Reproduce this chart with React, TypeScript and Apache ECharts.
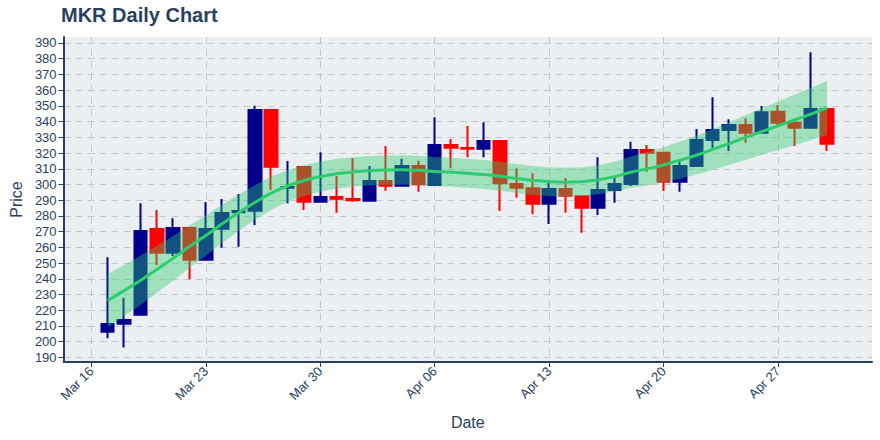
import React, { useEffect, useRef } from "react";
import * as echarts from "echarts";

// ---------- data ----------
const dates = [
  "2020-03-17", "2020-03-18", "2020-03-19", "2020-03-20", "2020-03-21", "2020-03-22", "2020-03-23",
  "2020-03-24", "2020-03-25", "2020-03-26", "2020-03-27", "2020-03-28", "2020-03-29", "2020-03-30",
  "2020-03-31", "2020-04-01", "2020-04-02", "2020-04-03", "2020-04-04", "2020-04-05", "2020-04-06",
  "2020-04-07", "2020-04-08", "2020-04-09", "2020-04-10", "2020-04-11", "2020-04-12", "2020-04-13",
  "2020-04-14", "2020-04-15", "2020-04-16", "2020-04-17", "2020-04-18", "2020-04-19", "2020-04-20",
  "2020-04-21", "2020-04-22", "2020-04-23", "2020-04-24", "2020-04-25", "2020-04-26", "2020-04-27",
  "2020-04-28", "2020-04-29", "2020-04-30",
];

const opens = [
  206.3, 211.4, 217.2, 271.7, 256.6, 272.3, 252.2, 271.9, 282.3, 283.3, 347.4, 298.0, 311.1, 289.0,
  292.0, 290.8, 289.7, 302.2, 299.2, 311.8, 299.7, 325.1, 323.2, 322.8, 327.7, 300.3, 297.6, 287.8,
  297.1, 292.5, 285.2, 296.5, 300.3, 321.9, 320.2, 301.8, 311.8, 328.3, 334.7, 337.8, 332.9, 346.3,
  339.3, 336.1, 348.0,
];
const closes = [
  211.2, 213.8, 270.4, 256.6, 272.3, 252.2, 271.7, 281.9, 283.2, 347.4, 311.3, 298.4, 289.0, 292.0,
  291.0, 290.0, 302.2, 299.2, 311.8, 300.1, 325.1, 323.4, 322.8, 327.7, 300.8, 298.0, 287.8, 297.1,
  292.9, 285.2, 296.5, 300.3, 321.9, 320.2, 301.8, 311.8, 328.3, 334.7, 337.8, 332.9, 345.9, 339.3,
  336.1, 348.0, 325.9,
];
const lows = [
  202.2, 196.4, 217.0, 248.8, 254.5, 239.7, 252.0, 259.8, 260.4, 274.2, 296.5, 288.0, 283.8, 289.0,
  282.0, 289.0, 289.7, 296.0, 299.0, 295.4, 299.7, 310.3, 317.3, 317.3, 283.1, 291.6, 281.0, 274.9,
  282.0, 269.3, 280.6, 288.4, 299.0, 308.1, 295.9, 295.4, 311.8, 323.0, 321.3, 326.6, 333.0, 337.2,
  324.5, 336.0, 321.3,
];
const highs = [
  253.7, 228.0, 288.0, 283.8, 278.5, 272.5, 288.9, 290.8, 294.0, 350.1, 347.4, 315.0, 311.1, 320.5,
  305.4, 316.7, 311.8, 324.5, 316.4, 315.1, 342.7, 328.9, 337.2, 339.6, 327.7, 310.3, 307.1, 302.8,
  304.1, 292.5, 317.3, 305.0, 327.2, 325.1, 320.2, 315.6, 335.3, 355.5, 341.5, 342.1, 349.9, 350.6,
  339.3, 384.1, 348.0,
];

// trend line and its confidence band
const trend = [
  226.0, 232.5, 239.0, 246.0, 253.0, 260.5, 267.5, 275.0, 282.0, 288.5, 294.5, 299.0, 302.5, 305.0,
  306.8, 308.0, 308.8, 309.2, 309.3, 309.0, 308.3, 307.8, 307.1, 306.3, 305.2, 303.8, 302.6, 301.8,
  301.5, 301.8, 303.0, 305.0, 307.8, 310.0, 312.5, 315.5, 318.6, 322.3, 326.0, 329.8, 333.6, 337.3,
  341.0, 344.8, 348.7,
];
const upper = [
  243.0, 248.8, 254.6, 260.9, 267.2, 274.0, 280.3, 287.2, 293.6, 299.5, 305.0, 309.1, 312.3, 314.6,
  316.3, 317.4, 318.1, 318.5, 318.6, 318.3, 317.5, 317.0, 316.3, 315.5, 314.4, 313.0, 311.8, 310.9,
  310.6, 310.9, 312.2, 314.5, 317.8, 320.6, 323.7, 327.3, 331.0, 335.3, 339.6, 344.0, 348.4, 352.7,
  357.0, 361.4, 365.9,
];
const lower = [
  209.0, 216.2, 223.4, 231.1, 238.8, 247.0, 254.7, 262.8, 270.4, 277.5, 284.0, 288.9, 292.7, 295.4,
  297.3, 298.6, 299.5, 299.9, 300.0, 299.7, 299.1, 298.6, 297.9, 297.1, 296.0, 294.6, 293.4, 292.7,
  292.4, 292.7, 293.8, 295.5, 297.8, 299.4, 301.3, 303.7, 306.2, 309.3, 312.4, 315.6, 318.8, 321.9,
  325.0, 328.2, 331.5,
];

const xTickDates = ["2020-03-16", "2020-03-23", "2020-03-30", "2020-04-06", "2020-04-13", "2020-04-20", "2020-04-27"];
const xTickLabels = ["Mar 16", "Mar 23", "Mar 30", "Apr 06", "Apr 13", "Apr 20", "Apr 27"];
const yTicks = [190, 200, 210, 220, 230, 240, 250, 260, 270, 280, 290, 300, 310, 320, 330, 340, 350, 360, 370, 380, 390];

// ---------- helpers ----------
const BASE = Date.parse("2020-03-16T00:00:00Z");
const toDay = (s: string) => (Date.parse(s + "T00:00:00Z") - BASE) / 86400000;

const FONT = "'Liberation Sans', Arial, Helvetica, sans-serif";
const TEXT = "#2a3f5f";

export default function App() {
  const ref = useRef<HTMLDivElement>(null);

  useEffect(() => {
    if (!ref.current) return;
    const chart = echarts.init(ref.current, undefined, { renderer: "svg" });

    const xs = dates.map(toDay);
    const candleData = xs.map((x, i) => [x, opens[i], closes[i], lows[i], highs[i]]);
    const trendData = xs.map((x, i) => [x, trend[i]]);
    const xTickVals = xTickDates.map(toDay);

    const gridLine = { show: true, lineStyle: { color: "#c4c6c8", width: 1, type: [7, 5] as any } };

    chart.setOption({
      animation: false,
      backgroundColor: "#ffffff",
      title: {
        text: "MKR Daily Chart",
        left: 61,
        top: 5,
        padding: 0,
        textStyle: { fontFamily: FONT, fontSize: 20, fontWeight: "bold", color: TEXT },
      },
      grid: {
        left: 61,
        right: 8,
        top: 37,
        bottom: 78,
        show: true,
        backgroundColor: "#eceff1",
        borderWidth: 0,
      },
      xAxis: {
        type: "value",
        min: -1.7,
        max: 47.75,
        name: "Date",
        nameLocation: "middle",
        nameGap: 52,
        nameTextStyle: { fontFamily: FONT, fontSize: 16, color: TEXT },
        axisLine: { show: true, onZero: false, lineStyle: { color: TEXT, width: 2 } },
        axisTick: { show: true, length: 5, customValues: xTickVals, lineStyle: { color: TEXT, width: 1 } },
        axisLabel: {
          customValues: xTickVals,
          rotate: 45,
          margin: 7,
          fontFamily: FONT,
          fontSize: 13,
          color: TEXT,
          formatter: (v: number) => {
            const k = xTickVals.findIndex((t) => Math.abs(t - v) < 1e-6);
            return k >= 0 ? xTickLabels[k] : "";
          },
        },
        splitLine: gridLine,
      },
      yAxis: {
        type: "value",
        min: 187.1,
        max: 393.8,
        name: "Price",
        nameLocation: "middle",
        nameGap: 38,
        nameTextStyle: { fontFamily: FONT, fontSize: 16, color: TEXT },
        axisLine: { show: true, onZero: false, lineStyle: { color: TEXT, width: 2 } },
        axisTick: { show: true, length: 5, customValues: yTicks, lineStyle: { color: TEXT, width: 1 } },
        axisLabel: {
          customValues: yTicks,
          margin: 7,
          fontFamily: FONT,
          fontSize: 13,
          color: TEXT,
        },
        splitLine: gridLine,
      },
      series: [
        {
          type: "candlestick",
          z: 2,
          data: candleData,
          encode: { x: 0, y: [1, 2, 3, 4] },
          barWidth: 13,
          itemStyle: {
            color: "#00008b",
            color0: "#ff0000",
            borderColor: "#00008b",
            borderColor0: "#ff0000",
            borderWidth: 2,
          },
        },
        {
          type: "custom",
          z: 5,
          silent: true,
          data: [[xs[0], lower[0]]],
          encode: { x: 0, y: 1 },
          renderItem: (_params: any, api: any) => {
            const top = xs.map((x, i) => api.coord([x, upper[i]]));
            const bot = xs.map((x, i) => api.coord([x, lower[i]])).reverse();
            return {
              type: "polygon",
              shape: { points: top.concat(bot) },
              style: { fill: "rgba(46,204,113,0.4)", stroke: "none" },
            };
          },
        },
        {
          type: "line",
          z: 6,
          data: trendData,
          symbol: "none",
          smooth: true,
          lineStyle: { color: "#2ecc71", width: 3 },
        },
      ],
    });

    return () => chart.dispose();
  }, []);

  return (
    <div
      ref={ref}
      style={{ position: "fixed", left: 0, top: 0, width: 880, height: 440 }}
    />
  );
}
